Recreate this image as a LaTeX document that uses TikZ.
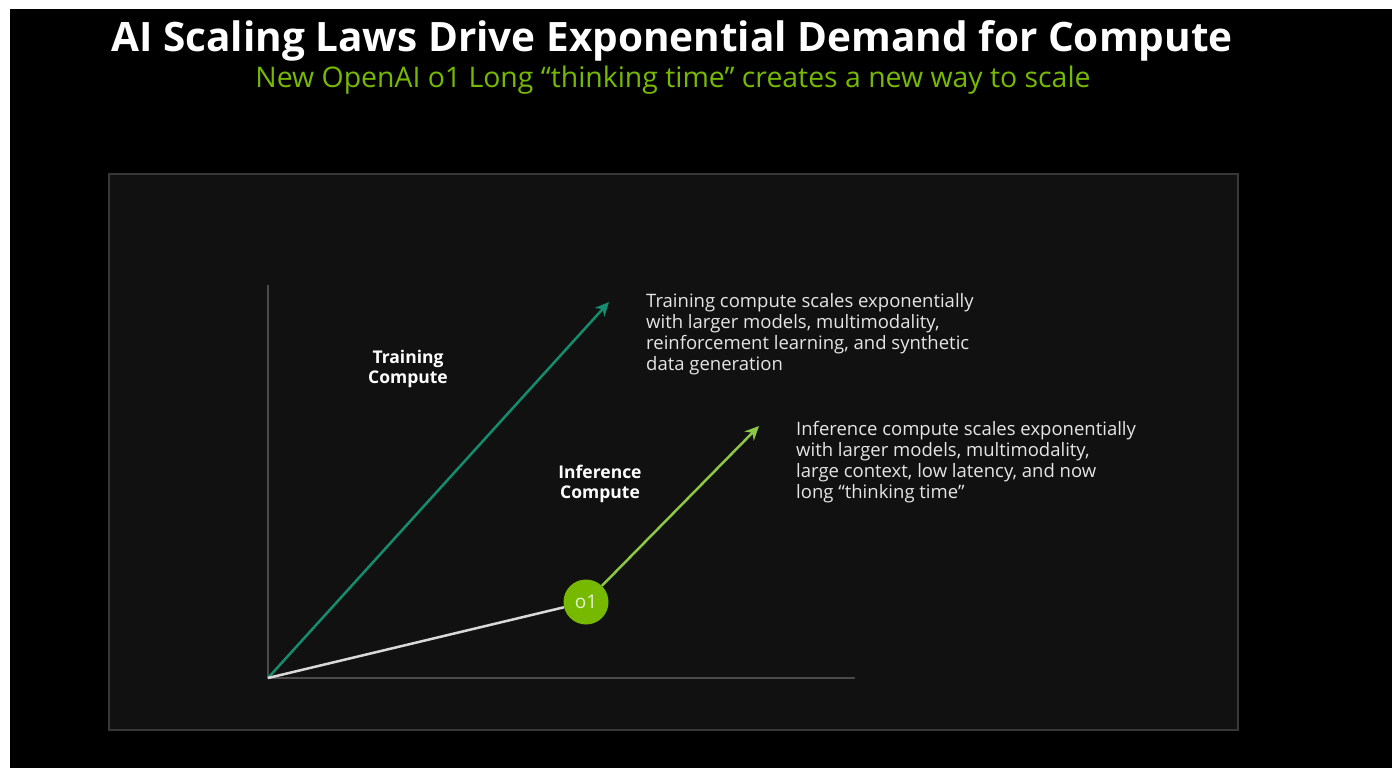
\documentclass[tikz,border=0pt]{standalone}
\usepackage{fontspec}
\setmainfont{Open Sans}
\usepackage{tikz}
\usetikzlibrary{arrows,arrows.meta,positioning}
\definecolor{nvgreen}{RGB}{118,185,0}
\definecolor{nvlightgreen}{RGB}{140,200,70}
\definecolor{nvteal}{RGB}{22,140,110}
\definecolor{panelgray}{RGB}{17,17,17}
\definecolor{framegray}{RGB}{55,55,55}
\definecolor{axisgray}{RGB}{75,75,75}
\tikzstyle{axis} = [line width=2pt, color=axisgray]
\tikzstyle{arrow} = [line width=2.5pt, -{Stealth[length=14pt,width=13pt]}]
\tikzstyle{axislabel} = [text=white, font=\fontsize{17.5}{20}\selectfont\bfseries, align=center]
\tikzstyle{desc} = [text=white!90!black, font=\fontsize{18.5}{21}\selectfont, align=left, anchor=north west, inner sep=0pt]
\tikzstyle{modelnode} = [circle, fill=nvgreen, minimum size=45pt, inner sep=0pt, text=white!80!nvgreen, font=\fontsize{19}{19}\selectfont]

\begin{document}
\begin{tikzpicture}[x=1pt, y=-1pt]
\useasboundingbox (0,0) rectangle (1392,768);
\fill[white] (0,0) rectangle (1392,768);
\fill[black] (10,9) rectangle (1392,768);

% Title
\node[text=white, font=\fontsize{40.5}{42}\selectfont\bfseries] (title) at (672,41) {AI Scaling Laws Drive Exponential Demand for Compute};
\node[text=nvgreen, font=\fontsize{28.4}{31}\selectfont] (subtitle) at (673,80) {New OpenAI o1 Long “thinking time” creates a new way to scale};

% Panel
\node[draw=framegray, fill=panelgray, line width=1.5pt, minimum width=1129pt, minimum height=556pt, anchor=north west] (panel) at (108,173) {};

% Axes
\coordinate (origin) at (268,678);
\coordinate (ytop) at (268,285);
\coordinate (xend) at (855,678);
\draw[axis] (ytop) -- (origin) -- (xend);

% Training
\coordinate (trainTip) at (609,302);
\draw[arrow, nvteal] (origin) -- (trainTip);
\node[axislabel] (trainlabel) at (408,369) {Training\\Compute};
\node[desc] (traindesc) at (646,293) {Training compute scales exponentially\\with larger models, multimodality,\\reinforcement learning, and synthetic\\data generation};

% Inference
\node[modelnode] (o1) at (586,602) {o1};
\draw[line width=2.5pt, white!85!black] (origin) -- (o1);
\coordinate (inferTip) at (759,426);
\draw[arrow, nvlightgreen] (o1) -- (inferTip);
\node[axislabel] (inferlabel) at (600,484) {Inference\\Compute};
\node[desc] (inferdesc) at (796,421) {Inference compute scales exponentially\\with larger models, multimodality,\\large context, low latency, and now\\long “thinking time”};
\end{tikzpicture}
\end{document}
